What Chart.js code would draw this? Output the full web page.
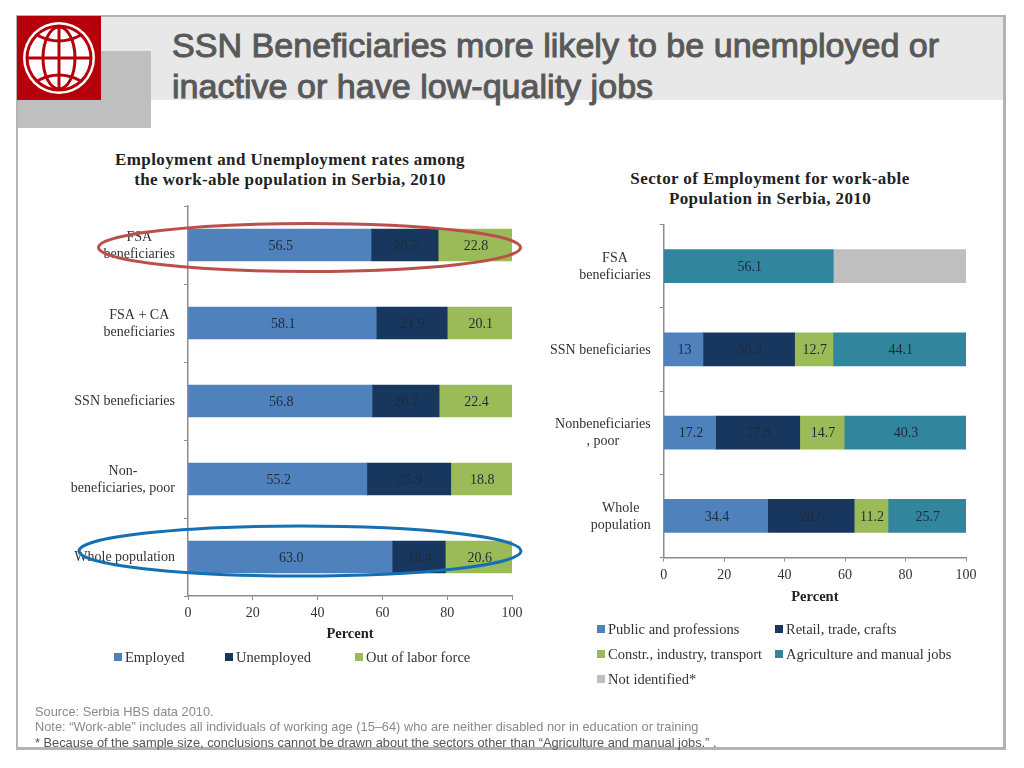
<!DOCTYPE html>
<html>
<head>
<meta charset="utf-8">
<title>SSN Beneficiaries</title>
<script src="https://cdn.jsdelivr.net/npm/chart.js@4"></script>
<style>
  html, body { margin: 0; padding: 0; background: #fff; }
  #slide { position: relative; width: 1024px; height: 768px; overflow: hidden; font-family: "Liberation Serif", serif; color: #333; }
  #frame { position: absolute; left: 16px; top: 15px; width: 985px; height: 730px; border: 2px solid #b3b3b3; border-right-width: 3px; border-bottom-width: 3px; }
  #band { position: absolute; left: 18px; top: 17px; width: 985px; height: 83px; background: #e8e8e8; }
  #greybox { position: absolute; left: 18px; top: 51px; width: 133px; height: 77px; background: #bfbfbf; }
  #logo { position: absolute; left: 17px; top: 16px; }
  #heading { position: absolute; left: 172px; top: 25px; font: 34.1px/41px "Liberation Sans", sans-serif; color: #595959; -webkit-text-stroke: 1px #595959; white-space: nowrap; }
  .chart-title { position: absolute; font-weight: bold; font-size: 17px; letter-spacing: 0.4px; line-height: 20px; text-align: center; color: #222; white-space: nowrap; transform: translateX(-50%); }
  canvas { position: absolute; }
  #marks { position: absolute; left: 0; top: 0; pointer-events: none; }
  .swatch { position: absolute; width: 8px; height: 8px; }
  .legend-text { position: absolute; font-size: 14.5px; line-height: 16px; white-space: nowrap; color: #333; }
  #notes { position: absolute; left: 35px; top: 703.5px; font: 12.8px/15.5px "Liberation Sans", sans-serif; color: #8a8a8a; white-space: nowrap; }
  #notes .dark { color: #555; }
</style>
</head>
<body>
<div id="slide">
  <div id="band"></div>
  <div id="greybox"></div>
  <div id="frame"></div>
  <svg id="logo" width="84" height="84" viewBox="0 0 84 84">
    <rect width="84" height="84" fill="#b5000c"/>
    <circle cx="42" cy="42" r="36" fill="#fff"/>
    <circle cx="42" cy="42" r="33.5" fill="#b5000c"/>
    <circle cx="42" cy="42" r="30.5" fill="#fff"/>
    <g fill="none" stroke="#b5000c" stroke-width="3">
      <line x1="42" y1="11" x2="42" y2="73"/>
      <line x1="11" y1="42" x2="73" y2="42"/>
      <ellipse cx="42" cy="42" rx="16" ry="31"/>
      <path d="M20 19 Q42 31 64 19"/>
      <path d="M20 65 Q42 53 64 65"/>
    </g>
  </svg>
  <div id="heading">SSN Beneficiaries more likely to be unemployed or<br>inactive or have low-quality jobs</div>

  <div class="chart-title" style="left:290px;top:150px">Employment and Unemployment rates among<br>the work-able population in Serbia, 2010</div>
  <div class="chart-title" style="left:770px;top:169px">Sector of Employment for work-able<br>Population in Serbia, 2010</div>

  <canvas id="leftChart" width="470" height="443" style="left:60px;top:200px"></canvas>
  <canvas id="rightChart" width="450" height="386" style="left:540px;top:220px"></canvas>

  <svg id="marks" width="1024" height="768">
    <ellipse cx="309.5" cy="247.5" rx="211" ry="24" fill="none" stroke="#bb4f4c" stroke-width="3"/>
    <ellipse cx="300" cy="551" rx="221" ry="25" fill="none" stroke="#1470b4" stroke-width="3"/>
  </svg>

  <div id="notes">Source: Serbia HBS data 2010.<br>Note: “Work-able” includes all individuals of working age (15–64) who are neither disabled nor in education or training<br><span class="dark">* Because of the sample size, conclusions cannot be drawn about the sectors other than “Agriculture and manual jobs.” .</span></div>
</div>

<script>
// Left chart: employment status
const statusCategories = [
  ['FSA', 'beneficiaries'],
  ['FSA + CA', 'beneficiaries'],
  ['SSN beneficiaries'],
  ['Non-', 'beneficiaries, poor'],
  ['Whole population']
];
const employed = [56.5, 58.1, 56.8, 55.2, 63.0];
const unemployed = [20.7, 21.9, 20.7, 25.9, 16.4];
const outOfLaborForce = [22.8, 20.1, 22.4, 18.8, 20.6];

// Right chart: sector of employment
const sectorCategories = [
  ['FSA', 'beneficiaries'],
  ['SSN beneficiaries'],
  ['Nonbeneficiaries', ', poor'],
  ['Whole', 'population']
];
const publicProfessions = [null, 13, 17.2, 34.4];
const retailTrade = [null, 30.3, 27.8, 28.6];
const constrIndustry = [null, 12.7, 14.7, 11.2];
const agricultureManual = [56.1, 44.1, 40.3, 25.7];
const notIdentified = [43.9, null, null, null];

const percentTicks = [0, 20, 40, 60, 80, 100];

const BLUE = '#4f81bd', NAVY = '#17375e', GREEN = '#9bbb59', TEAL = '#31859c', GREY = '#bfbfbf';
const AXIS = '#8c8c8c';
const SERIF = '"Liberation Serif", serif';

Chart.defaults.font.family = SERIF;
Chart.defaults.animation = false;

// category labels are centred line by line but right-aligned as a block, which ticks can't do
const blockLabels = {
  id: 'blockLabels',
  afterDraw(chart) {
    const { ctx, scales: { y } } = chart;
    ctx.save();
    ctx.font = '14px ' + SERIF;
    ctx.fillStyle = '#333';
    ctx.textAlign = 'center';
    ctx.textBaseline = 'middle';
    chart.data.labels.forEach((lines, i) => {
      const widest = Math.max(...lines.map((l) => ctx.measureText(l).width));
      const cx = y.right - 13 - widest / 2;
      const top = y.getPixelForTick(i) + 0.5 - (lines.length - 1) * 8.5;
      lines.forEach((l, n) => ctx.fillText(l, cx, top + n * 17));
    });
    ctx.restore();
  }
};

// value text in the middle of each segment
const barValues = {
  id: 'barValues',
  afterDatasetsDraw(chart, args, opts) {
    const { ctx } = chart;
    ctx.save();
    ctx.font = '14px ' + SERIF;
    ctx.fillStyle = '#1f2a38';
    ctx.textAlign = 'center';
    ctx.textBaseline = 'middle';
    chart.data.datasets.forEach((ds, d) => {
      if (ds.noValues) return;
      chart.getDatasetMeta(d).data.forEach((bar, i) => {
        const v = ds.data[i];
        if (v == null) return;
        const c = bar.getCenterPoint();
        ctx.fillText(opts.format(v), c.x + 1, c.y + 1);
      });
    });
    ctx.restore();
  }
};

function stackedOptions(format, yWidth, xHeight, padding, thickness) {
  return {
    indexAxis: 'y',
    responsive: false,
    maintainAspectRatio: false,
    layout: { padding },
    datasets: { bar: { barThickness: thickness } },
    plugins: {
      legend: { display: false },
      tooltip: { enabled: false },
      barValues: { format }
    },
    scales: {
      x: {
        stacked: true,
        min: 0,
        max: 100,
        afterBuildTicks: (scale) => { scale.ticks = percentTicks.map((value) => ({ value })); },
        afterFit: (scale) => { scale.height = xHeight; },
        grid: { drawOnChartArea: false, color: AXIS, tickLength: 4 },
        border: { color: AXIS, width: 1.5 },
        ticks: { color: '#333', font: { size: 14 }, padding: 5, maxRotation: 0 },
        title: { display: true, text: 'Percent', color: '#222', font: { size: 14.5, weight: 'bold' }, padding: { top: 3, bottom: 0 } }
      },
      y: {
        stacked: true,
        afterFit: (scale) => { scale.width = yWidth; },
        grid: { drawOnChartArea: false, color: AXIS, tickLength: 4 },
        border: { color: AXIS, width: 1.5 },
        ticks: { display: false }
      }
    }
  };
}

new Chart(document.getElementById('leftChart'), {
  type: 'bar',
  plugins: [blockLabels, barValues],
  data: {
    labels: statusCategories,
    datasets: [
      { label: 'Employed', data: employed, backgroundColor: BLUE },
      { label: 'Unemployed', data: unemployed, backgroundColor: NAVY },
      { label: 'Out of labor force', data: outOfLaborForce, backgroundColor: GREEN }
    ]
  },
  options: stackedOptions((v) => v.toFixed(1), 128, 47, { top: 6, right: 18, bottom: 0, left: 0 }, 32)
});

new Chart(document.getElementById('rightChart'), {
  type: 'bar',
  plugins: [blockLabels, barValues],
  data: {
    labels: sectorCategories,
    datasets: [
      { label: 'Public and professions', data: publicProfessions, backgroundColor: BLUE },
      { label: 'Retail, trade, crafts', data: retailTrade, backgroundColor: NAVY },
      { label: 'Constr., industry, transport', data: constrIndustry, backgroundColor: GREEN },
      { label: 'Agriculture and manual jobs', data: agricultureManual, backgroundColor: TEAL },
      { label: 'Not identified*', data: notIdentified, backgroundColor: GREY, noValues: true }
    ]
  },
  options: stackedOptions((v) => String(v), 123.7, 48.5, { top: 4.5, right: 24, bottom: 0, left: 0 }, 33)
});

// legends sit in their own spots on the slide, not where Chart.js would put them
function legendEntry(name, color, x, y) {
  const slide = document.getElementById('slide');
  const box = document.createElement('div');
  box.className = 'swatch';
  box.style.cssText = `left:${x}px;top:${y - 4}px;background:${color}`;
  const txt = document.createElement('div');
  txt.className = 'legend-text';
  txt.style.cssText = `left:${x + 11}px;top:${y - 8}px`;
  txt.textContent = name;
  slide.appendChild(box);
  slide.appendChild(txt);
}

legendEntry('Employed', BLUE, 114, 657);
legendEntry('Unemployed', NAVY, 225, 657);
legendEntry('Out of labor force', GREEN, 355, 657);
legendEntry('Public and professions', BLUE, 597, 629);
legendEntry('Retail, trade, crafts', NAVY, 775, 629);
legendEntry('Constr., industry, transport', GREEN, 597, 654);
legendEntry('Agriculture and manual jobs', TEAL, 775, 654);
legendEntry('Not identified*', GREY, 597, 679);
</script>
</body>
</html>
